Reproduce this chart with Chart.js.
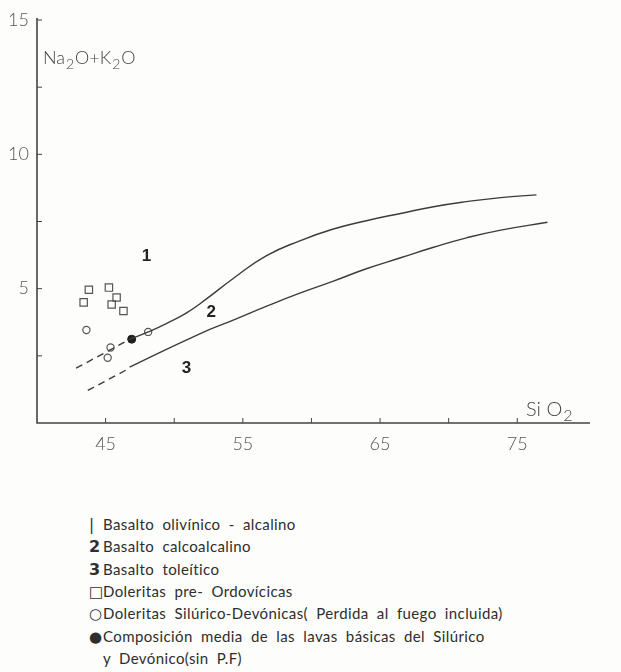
<!DOCTYPE html>
<html>
<head>
<meta charset="utf-8">
<script src="https://cdn.jsdelivr.net/npm/chart.js"></script>
<style>
  body { margin: 0; background: #fdfdfb; width: 621px; height: 672px; overflow: hidden; position: relative; font-family: Lato, "DejaVu Sans", sans-serif; color: #2e2e2e; }
  #caja { position: absolute; left: 0; top: 0; width: 621px; height: 470px; }
  .fila { position: absolute; left: 89px; height: 22px; line-height: 22px; font-size: 15px; font-weight: 400; letter-spacing: 0.4px; word-spacing: 4px; white-space: nowrap; }
  .simbolo { display: inline-block; width: 14px; font-family: "DejaVu Sans", sans-serif; font-size: 15px; letter-spacing: 0; }
  .num { font-weight: bold; font-size: 16px; }
</style>
</head>
<body>
<div id="caja"><canvas id="grafico" width="621" height="470"></canvas></div>
<div id="leyenda"></div>
<script>
// curva limite entre 1 y 2
const curvaSupX = [46.75, 48.1, 49.5, 50.9, 52.3, 54.3, 56.7, 59.2, 61.6, 64.0, 66.5, 68.9, 71.3, 73.8, 76.4];
const curvaSupY = [3.11, 3.39, 3.72, 4.10, 4.60, 5.38, 6.22, 6.79, 7.22, 7.53, 7.80, 8.05, 8.24, 8.39, 8.49];
const trazosSupX = [42.85, 46.75];
const trazosSupY = [2.04, 3.11];
// curva limite entre 2 y 3
const curvaInfX = [46.75, 51.9, 54.3, 56.7, 59.2, 61.6, 64.0, 66.5, 68.9, 71.3, 73.8, 77.2];
const curvaInfY = [2.08, 3.33, 3.83, 4.34, 4.84, 5.28, 5.74, 6.15, 6.54, 6.89, 7.18, 7.47];
const trazosInfX = [43.7, 46.6];
const trazosInfY = [1.21, 2.0];
// muestras
const preOrdX = [43.78, 45.24, 43.4, 45.8, 45.44, 46.3];
const preOrdY = [4.96, 5.04, 4.49, 4.67, 4.41, 4.17];
const silDevX = [43.6, 45.36, 45.15, 48.1];
const silDevY = [3.46, 2.81, 2.43, 3.39];
const mediaX = [46.9];
const mediaY = [3.12];

const marcasX = [45, 50, 55, 60, 65, 70, 75];
const etiquetasX = [45, 55, 65, 75];
const marcasY = [2.5, 5, 7.5, 10, 12.5, 15];
const etiquetasY = [5, 10, 15];

const campos = ['1', '2', '3'];
const camposX = [47.97, 52.7, 50.9];
const camposY = [6.2, 4.11, 2.04];

const simbolosLeyenda = ['|', '2', '3', '□', '○', '●', ''];
const textosLeyenda = [
    'Basalto olivínico - alcalino',
    'Basalto calcoalcalino',
    'Basalto toleítico',
    'Doleritas pre- Ordovícicas',
    'Doleritas Silúrico-Devónicas( Perdida al fuego incluida)',
    'Composición media de las lavas básicas del Silúrico',
    'y Devónico(sin P.F)'
];

const tinta = '#3c3c3c';
const puntos = (xs, ys) => xs.map((x, i) => ({ x: x, y: ys[i] }));

const dibujos = {
    id: 'dibujos',
    beforeDatasetsDraw(chart) {
        const ctx = chart.ctx;
        const sx = chart.scales.x, sy = chart.scales.y;
        const a = chart.chartArea;
        ctx.save();
        ctx.strokeStyle = '#444';
        ctx.lineWidth = 1.6;
        ctx.beginPath();
        ctx.moveTo(a.left, a.top - 2);
        ctx.lineTo(a.left, a.bottom);
        ctx.lineTo(a.right, a.bottom);
        ctx.stroke();
        ctx.lineWidth = 1;
        marcasX.forEach(v => {
            const px = sx.getPixelForValue(v);
            ctx.beginPath();
            ctx.moveTo(px, a.bottom);
            ctx.lineTo(px, a.bottom - 5);
            ctx.stroke();
        });
        marcasY.forEach(v => {
            const py = sy.getPixelForValue(v);
            ctx.beginPath();
            ctx.moveTo(a.left, py);
            ctx.lineTo(a.left + 5, py);
            ctx.stroke();
        });
        ctx.restore();
    },
    afterDatasetsDraw(chart) {
        const ctx = chart.ctx;
        const sx = chart.scales.x, sy = chart.scales.y;
        const a = chart.chartArea;
        ctx.save();
        ctx.fillStyle = '#222';
        ctx.font = 'bold 17px "Liberation Sans", sans-serif';
        ctx.textAlign = 'center';
        ctx.textBaseline = 'middle';
        campos.forEach((t, i) => {
            ctx.fillText(t, sx.getPixelForValue(camposX[i]), sy.getPixelForValue(camposY[i]));
        });
        // titulos de los ejes con subindices
        ctx.fillStyle = '#444';
        ctx.textAlign = 'left';
        ctx.textBaseline = 'alphabetic';
        const trozos = (partes, x, y, g, p) => {
            partes.forEach(q => {
                ctx.font = q[1] ? '300 ' + p + 'px Lato, sans-serif' : '300 ' + g + 'px Lato, sans-serif';
                ctx.fillText(q[0], x, y + (q[1] ? 5 : 0));
                x += ctx.measureText(q[0]).width + 1;
            });
        };
        trozos([['Na', 0], ['2', 1], ['O+K', 0], ['2', 1], ['O', 0]], a.left + 6, a.top + 44, 18, 14);
        trozos([['Si O', 0], ['2', 1]], a.right - 64, a.bottom - 7, 20, 16);
        ctx.restore();
    }
};

new Chart(document.getElementById('grafico').getContext('2d'), {
    type: 'scatter',
    data: {
        datasets: [
            { data: puntos(curvaSupX, curvaSupY), showLine: true, borderColor: tinta, borderWidth: 1.4, pointRadius: 0, tension: 0.5 },
            { data: puntos(trazosSupX, trazosSupY), showLine: true, borderColor: tinta, borderWidth: 1.4, borderDash: [7, 5], pointRadius: 0 },
            { data: puntos(curvaInfX, curvaInfY), showLine: true, borderColor: tinta, borderWidth: 1.4, pointRadius: 0, tension: 0.5 },
            { data: puntos(trazosInfX, trazosInfY), showLine: true, borderColor: tinta, borderWidth: 1.4, borderDash: [7, 5], pointRadius: 0 },
            { data: puntos(preOrdX, preOrdY), pointStyle: 'rect', pointRadius: 5.2, backgroundColor: 'rgba(0,0,0,0)', borderColor: '#555', borderWidth: 1.2 },
            { data: puntos(silDevX, silDevY), pointStyle: 'circle', pointRadius: 3.6, backgroundColor: 'rgba(0,0,0,0)', borderColor: '#555', borderWidth: 1.2 },
            { data: puntos(mediaX, mediaY), pointStyle: 'circle', pointRadius: 4, backgroundColor: '#1e1e1e', borderColor: '#1e1e1e', borderWidth: 1 }
        ]
    },
    options: {
        responsive: false,
        animation: false,
        layout: { padding: { top: 20, right: 31, left: 0, bottom: 0 } },
        plugins: { legend: { display: false }, tooltip: { enabled: false } },
        scales: {
            x: {
                type: 'linear', min: 40, max: 80.3,
                grid: { display: false, drawTicks: false },
                border: { display: false },
                afterBuildTicks: s => { s.ticks = marcasX.map(v => ({ value: v })); },
                afterFit: s => { s.height = 47; },
                ticks: {
                    padding: 10, color: '#555', autoSkip: false, maxRotation: 0,
                    font: { family: 'Lato', size: 18, weight: '300' },
                    callback: v => etiquetasX.includes(v) ? String(v) : ''
                }
            },
            y: {
                type: 'linear', min: 0, max: 15,
                grid: { display: false, drawTicks: false },
                border: { display: false },
                afterBuildTicks: s => { s.ticks = marcasY.map(v => ({ value: v })); },
                afterFit: s => { s.width = 37; },
                ticks: {
                    padding: 8, color: '#555', autoSkip: false,
                    font: { family: 'Lato', size: 18, weight: '300' },
                    callback: v => etiquetasY.includes(v) ? String(v) : ''
                }
            }
        }
    },
    plugins: [dibujos]
});

const leyenda = document.getElementById('leyenda');
textosLeyenda.forEach((t, i) => {
    const fila = document.createElement('div');
    fila.className = 'fila';
    fila.style.top = (513 + i * 22.3) + 'px';
    const s = document.createElement('span');
    s.className = 'simbolo' + (i === 1 || i === 2 ? ' num' : '');
    s.textContent = simbolosLeyenda[i];
    fila.appendChild(s);
    fila.appendChild(document.createTextNode(t));
    leyenda.appendChild(fila);
});
</script>
</body>
</html>
